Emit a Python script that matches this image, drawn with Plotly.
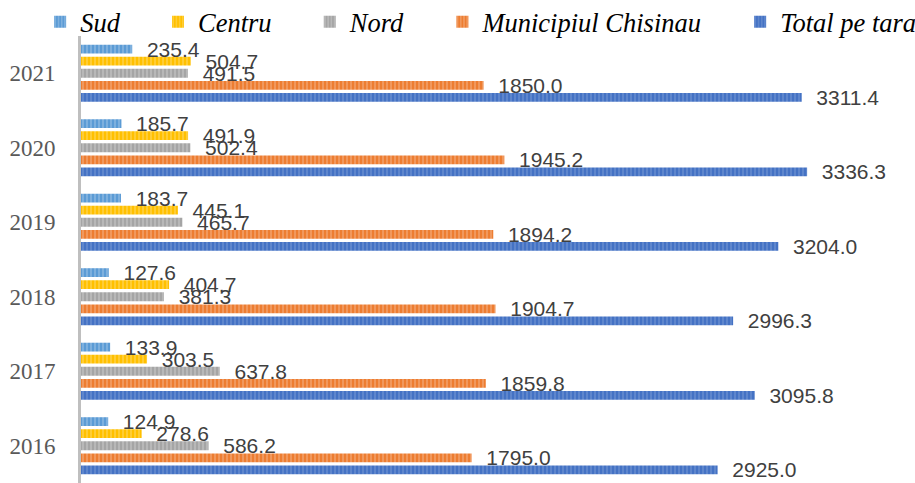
import plotly.graph_objects as go

years = ["2016", "2017", "2018", "2019", "2020", "2021"]
sud = [124.9, 133.9, 127.6, 183.7, 185.7, 235.4]
centru = [278.6, 303.5, 404.7, 445.1, 491.9, 504.7]
nord = [586.2, 637.8, 381.3, 465.7, 502.4, 491.5]
chisinau = [1795.0, 1859.8, 1904.7, 1894.2, 1945.2, 1850.0]
total = [2925.0, 3095.8, 2996.3, 3204.0, 3336.3, 3311.4]

series = [
    ("Total pe tara", total, "#4472C4", "#8FAADC", 0),
    ("Municipiul Chisinau", chisinau, "#ED7D31", "#F8CBAD", 5),
    ("Nord", nord, "#A5A5A5", "#DBDBDB", 5),
    ("Centru", centru, "#FFC000", "#FFE699", 5),
    ("Sud", sud, "#5B9BD5", "#BDD7EE", 5),
]

pad = "\u00a0" * 2
fig = go.Figure()
for name, vals, col, light, npad in series:
    fig.add_trace(go.Bar(
        y=years, x=vals, orientation="h",
        name=name + "\u00a0" * npad,
        marker=dict(color=col, line=dict(width=0),
                    pattern=dict(shape="|", fillmode="overlay", fgcolor=light,
                                 size=4, solidity=0.35)),
        text=[f"{pad}{v:.1f}" for v in vals],
        textposition="outside",
        constraintext="none",
        cliponaxis=False,
        textfont=dict(family="Liberation Sans", size=21, color="#404040"),
    ))

fig.update_layout(
    width=915, height=483,
    margin=dict(l=81, r=0, t=36, b=0, autoexpand=False),
    paper_bgcolor="white", plot_bgcolor="white",
    barmode="group", bargap=0.19, bargroupgap=0.27,
    showlegend=True,
    legend=dict(orientation="h", x=-0.049, xanchor="left", y=1.0313, yanchor="middle",
                traceorder="reversed", itemsizing="constant",
                font=dict(family="Liberation Serif", size=26.5, color="black", style="italic"),
                bgcolor="rgba(0,0,0,0)", tracegroupgap=0, itemwidth=30),
    xaxis=dict(range=[0, 3832], showgrid=False, zeroline=False, showticklabels=False,
               showline=False),
    yaxis=dict(type="category", categoryorder="array", categoryarray=years,
               showgrid=False, showline=True, linecolor="#BFBFBF", linewidth=3,
               ticks="outside", ticklen=18, tickcolor="rgba(0,0,0,0)",
               tickfont=dict(family="Liberation Serif", size=23, color="#595959")),
)

fig.write_html("out.html")
